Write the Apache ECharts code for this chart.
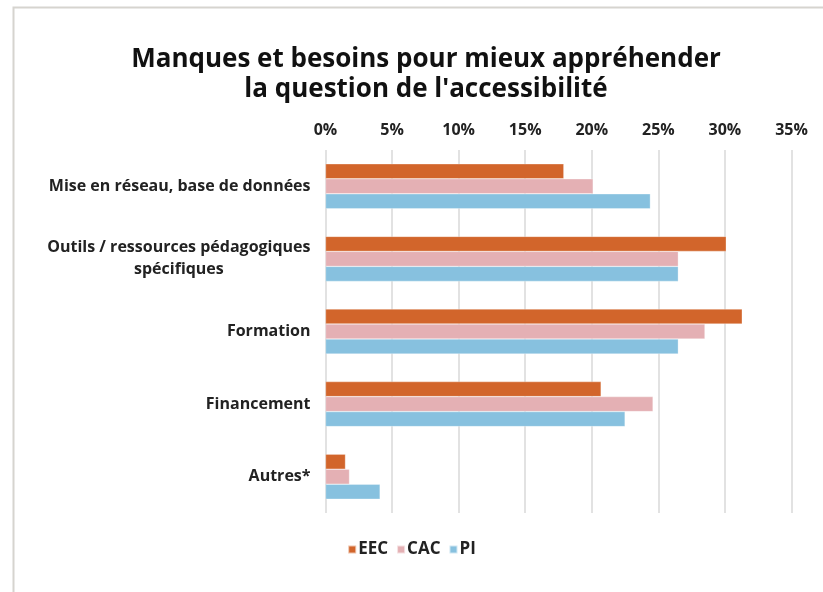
<!DOCTYPE html>
<html>
<head>
<meta charset="utf-8">
<script src="https://cdn.jsdelivr.net/npm/echarts@6/dist/echarts.min.js"></script>
<style>html,body{margin:0;padding:0;background:#fff}#c{width:823px;height:592px}</style>
</head>
<body>
<div id="c"></div>
<script>
const categories = ['Mise en réseau, base de données', 'Outils / ressources pédagogiques\nspécifiques', 'Formation', 'Financement', 'Autres*'];
const seriesNames = ['EEC', 'CAC', 'PI'];
const eec = [17.9, 30.1, 31.3, 20.7, 1.5];
const cac = [20.1, 26.5, 28.5, 24.6, 1.8];
const pi = [24.4, 26.5, 26.5, 22.5, 4.1];
const colors = ['#D2652B', '#E4B0B4', '#87C1DF'];

const chart = echarts.init(document.getElementById('c'));
const font = '"Open Sans", "Noto Sans", sans-serif';
const values = [eec, cac, pi];
const labelStyle = { fontFamily: font, fontWeight: 'bold', fontSize: 16, color: '#222', lineHeight: 22, align: 'center' };
chart.setOption({
  backgroundColor: '#fff',
  animation: false,
  title: {
    text: 'Manques et besoins pour mieux appréhender\nla question de l\'accessibilité',
    left: 421, textAlign: 'center', top: 40,
    textStyle: { fontFamily: font, fontWeight: 'bold', fontSize: 26, lineHeight: 30, color: '#111' }
  },
  legend: {
    data: seriesNames, bottom: 29, left: 'center', itemWidth: 8, itemHeight: 8, itemGap: 8,
    icon: 'rect',
    textStyle: { fontFamily: font, fontWeight: 'bold', fontSize: 17, color: '#222', padding: [0, 0, 0, -3] }
  },
  grid: { left: 325.5, right: 31.5, top: 150, bottom: 79, containLabel: false },
  xAxis: {
    type: 'value', position: 'top', min: 0, max: 35, interval: 5,
    axisLabel: { formatter: '{value}%', fontFamily: font, fontWeight: 'bold', fontSize: 16, color: '#222', margin: 12 },
    axisLine: { show: false }, axisTick: { show: false },
    splitLine: { lineStyle: { color: '#d9d9d9', width: 1.5 } }
  },
  yAxis: {
    type: 'category', data: categories, inverse: true,
    axisLine: { show: false }, axisTick: { show: false },
    axisLabel: {
      fontFamily: font, fontWeight: 'bold', fontSize: 16, color: '#222', margin: 15, lineHeight: 22, align: 'right',
      formatter: v => v.split('\n').map(s => '{c|' + s + '}').join('\n'),
      rich: { c: labelStyle }
    }
  },
  graphic: [
    { type: 'polyline', shape: { points: [[13.5, 592], [13.5, 7.5], [823, 7.5]] }, style: { stroke: '#d6d4cf', lineWidth: 2, fill: null } }
  ],
  series: seriesNames.map((n, i) => ({
    name: n, type: 'bar', data: values[i], barWidth: 15, barGap: '0%',
    itemStyle: { color: colors[i], borderColor: 'rgba(255,255,255,0.6)', borderWidth: 0.5 }
  }))
});
</script>
</body>
</html>
